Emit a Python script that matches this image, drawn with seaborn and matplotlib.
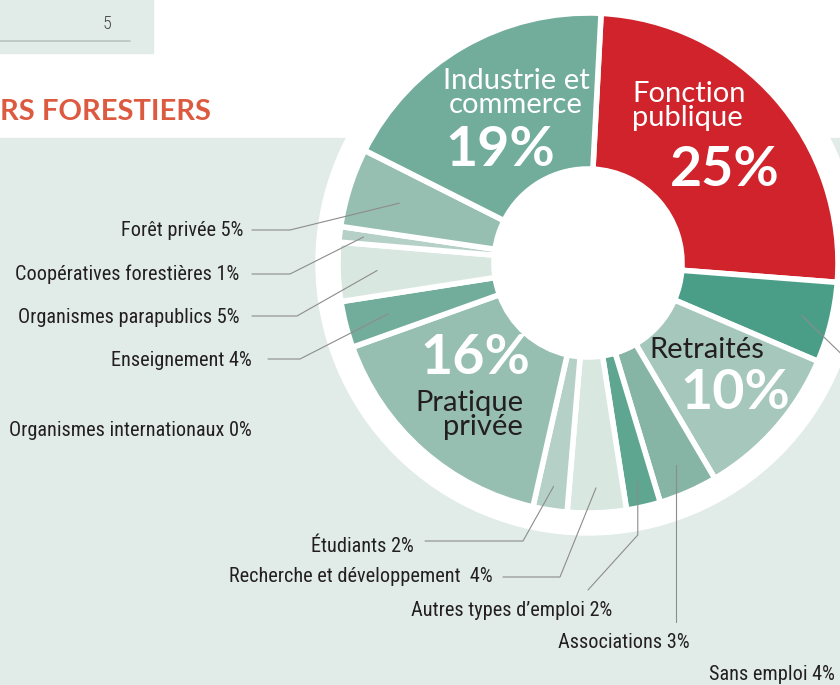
import matplotlib
matplotlib.use("Agg")
import matplotlib.pyplot as plt
import seaborn as sns
from matplotlib.patches import Circle, Rectangle
import numpy as np

# parts des employeurs (ordre horaire depuis le haut)
sectors = ["Fonction publique", "Sans emploi", "Retraités", "Associations",
           "Autres types d’emploi", "Recherche et développement", "Étudiants",
           "Pratique privée", "Enseignement", "Organismes parapublics",
           "Coopératives forestières", "Forêt privée", "Industrie et commerce"]
shares = [25.4, 5.2, 10.1, 3.8, 2.2, 3.8, 2.2, 16.0, 3.0, 3.8, 1.0, 5.1, 18.4]
printed = [25, 4, 10, 3, 2, 4, 2, 16, 4, 5, 1, 5, 19]
colors = ["#d0232b", "#4a9e87", "#a6c7bb", "#86b5a6", "#5ea690", "#d9e7e1",
          "#b5d1c7", "#97bfb1", "#72ad9b", "#d9e7e1", "#b5d1c7", "#97bfb1",
          "#72ad9b"]
extra_label = "Organismes internationaux 0%"

W, H = 840, 685
CX, CY = 588, 263
R_OUT, R_IN, R_RING = 250, 94, 272
BG = "#e1ece8"
INK = "#231f20"

sns.set_theme(style="white")
plt.rcParams["font.family"] = ["Lato", "DejaVu Sans"]
narrow = ["Roboto Condensed", "DejaVu Sans"]


def py(y):
    return H - y


fig = plt.figure(figsize=(W / 100, H / 100), dpi=100)
ax = fig.add_axes([0, 0, 1, 1])

# fonds
ax.add_patch(Rectangle((0, py(H)), W, H - 138, color=BG, zorder=0))
ax.add_patch(Rectangle((0, py(53)), 153, 53, color=BG, zorder=0))
ax.plot([0, 130], [py(41), py(41)], color="#b9c3bf", lw=1.2, zorder=1)
ax.text(107, py(24), "5", fontsize=13, color="#444444", ha="center", va="center",
        family=narrow, fontweight="light")
ax.text(0, py(112), "RS FORESTIERS", fontsize=21, fontweight="bold",
        color="#dc5a40", ha="left", va="center")
ax.add_patch(Circle((CX, py(CY)), R_RING, color="white", zorder=1))

wedges, _ = ax.pie(shares, colors=colors, startangle=87, counterclock=False,
                   radius=R_OUT, center=(CX, py(CY)), frame=True,
                   wedgeprops=dict(width=R_OUT - R_IN, edgecolor="white",
                                   linewidth=4))

# étiquettes dans l'anneau
big = dict(fontsize=40, fontweight="bold", ha="center", va="center")
mid = dict(fontsize=21, va="center", linespacing=0.95)
ax.text(516, py(93), "Industrie et\ncommerce", color="white", ha="center", **mid)
ax.text(500, py(150), f"{printed[12]}%", color="white", **big)
ax.text(632, py(106), "Fonction\npublique", color="white", ha="left", **mid)
ax.text(725, py(170), f"{printed[0]}%", color="white", **big)
ax.text(707, py(350), "Retraités", color=INK, ha="center", **mid)
ax.text(735, py(393), f"{printed[2]}%", color="white", **big)
ax.text(475, py(358), f"{printed[7]}%", color="white", **big)
ax.text(523, py(415), "Pratique\nprivée", color=INK, ha="right", **mid)

# étiquettes extérieures avec filets
bounds = np.cumsum([0] + shares)
mids = 87 - (bounds[:-1] + bounds[1:]) / 2 * 3.6

# path: points du filet depuis le texte; None en x = abscisse du point d'ancrage
layout = {
    11: dict(txt=(243, 230), path=[(252, 230), (290, 230)], r=198),
    10: dict(txt=(239, 274), path=[(252, 274), (290, 274)], r=226),
    9: dict(txt=(239, 317), path=[(252, 316), (297, 316)], r=211),
    8: dict(txt=(252, 360), path=[(268, 359), (300, 359)], r=206),
    6: dict(txt=(414, 547), path=[(425, 541), (523, 541)], r=226),
    5: dict(txt=(493, 577), path=[(503, 577), (560, 577)], r=225),
    4: dict(txt=(612, 610), path=[(588, 590), (None, 535)], r=224),
    3: dict(txt=(690, 643), path=[(None, 622)], r=220),
    1: dict(txt=(835, 675), path=[(860, 372)], r=220),
}
for i, spec in layout.items():
    name = sectors[i]
    gap = "  " if i == 5 else " "
    ax.text(spec["txt"][0], py(spec["txt"][1]), f"{name}{gap}{printed[i]}%",
            fontsize=14.6, color=INK, ha="right", va="center", family=narrow)
    a = np.deg2rad(mids[i])
    ax_x = CX + spec["r"] * np.cos(a)
    ax_y = CY - spec["r"] * np.sin(a)
    pts = [(ax_x if x is None else x, y) for x, y in spec["path"]]
    pts.append((ax_x, ax_y))
    xs = [p[0] for p in pts]
    ys = [py(p[1]) for p in pts]
    ax.plot(xs, ys, color="#8c8c8c", lw=0.8, zorder=5)

ax.text(252, py(430), extra_label, fontsize=14.6, color=INK, ha="right",
        va="center", family=narrow)

ax.set_xlim(0, W)
ax.set_ylim(0, H)
ax.set_aspect("equal")
ax.axis("off")
fig.savefig("out.png", dpi=100)
